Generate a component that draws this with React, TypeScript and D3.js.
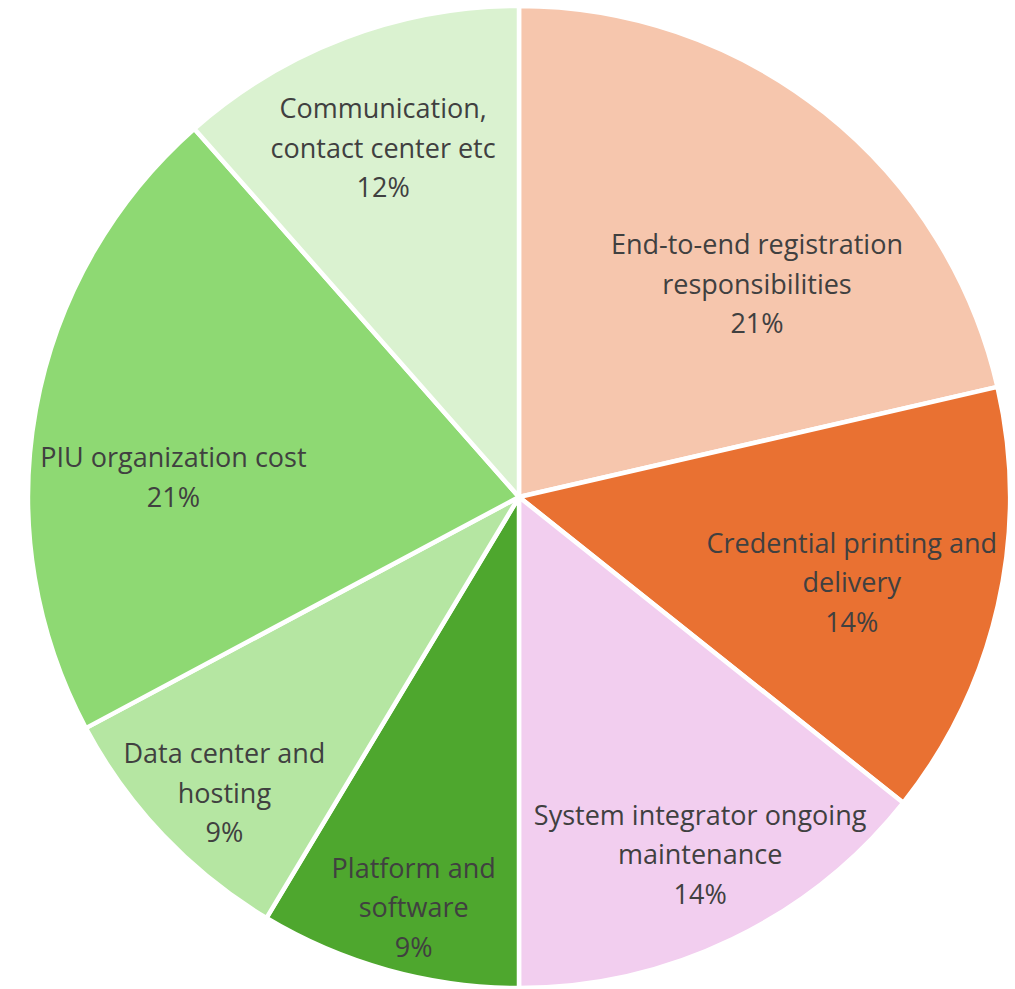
import React from "react";
import * as d3 from "d3";

const categories = [
  "End-to-end registration responsibilities",
  "Credential printing and delivery",
  "System integrator ongoing maintenance",
  "Platform and software",
  "Data center and hosting",
  "PIU organization cost",
  "Communication, contact center etc",
];
const values = [21.4, 14.3, 14.3, 8.6, 8.6, 21.3, 11.5];
const percentLabels = ["21%", "14%", "14%", "9%", "9%", "21%", "12%"];
const labelLines = [
  ["End-to-end registration", "responsibilities"],
  ["Credential printing and", "delivery"],
  ["System integrator ongoing", "maintenance"],
  ["Platform and", "software"],
  ["Data center and", "hosting"],
  ["PIU organization cost"],
  ["Communication,", "contact center etc"],
];
const colors = ["#F6C6AD", "#E97132", "#F2CEEF", "#4EA72E", "#B5E6A2", "#8ED973", "#DAF2D0"];

// layout: label radius fraction and angular shift (degrees)
const labelRadiusFrac = [0.65, 0.7, 0.817, 0.864, 0.851, 0.705, 0.762];
const labelAngleShift = [9.7, 1.7, -1.1, -1.1, -1.6, -7, -0.6];

const W = 1015;
const H = 989;
const cx = 519;
const cy = 497;
const R = 491;
const lineH = 39.5;

export default function App() {
  const pie = d3.pie<number>().sort(null).value((d) => d);
  const arcs = pie(values);
  const arc = d3.arc<d3.PieArcDatum<number>>().innerRadius(0).outerRadius(R);
  return (
    <svg
      width={W}
      height={H}
      style={{ position: "absolute", left: 0, top: 0, background: "#fff" }}
      fontFamily="'Open Sans', sans-serif"
    >
      <g transform={`translate(${cx},${cy})`}>
        {arcs.map((a, i) => (
          <path key={categories[i]} d={arc(a) || ""} fill={colors[i]} stroke="#fff" strokeWidth={4.5} strokeLinejoin="round" />
        ))}
        {arcs.map((a, i) => {
          const mid = (a.startAngle + a.endAngle) / 2 + (labelAngleShift[i] * Math.PI) / 180;
          const r = R * labelRadiusFrac[i];
          const x = r * Math.sin(mid);
          const y = -r * Math.cos(mid);
          const lines = [...labelLines[i], percentLabels[i]];
          const y0 = y - ((lines.length - 1) * lineH) / 2;
          return (
            <text key={"t" + i} textAnchor="middle" fontSize={27} fill="#404040">
              {lines.map((l, j) => (
                <tspan key={j} x={x} y={y0 + j * lineH} dy="0.35em">
                  {l}
                </tspan>
              ))}
            </text>
          );
        })}
      </g>
    </svg>
  );
}
